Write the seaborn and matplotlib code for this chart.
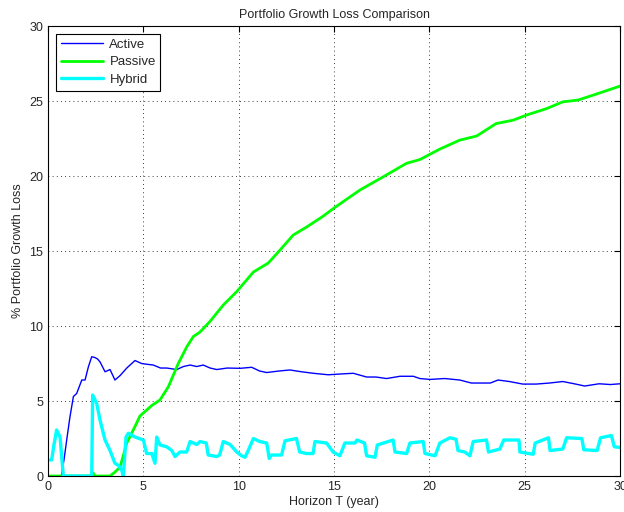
import pandas as pd
import seaborn as sns
import matplotlib
matplotlib.use('Agg')
import matplotlib.pyplot as plt

# values
active_t = [0, 0.7, 0.85, 1.0, 1.15, 1.33, 1.5, 1.65, 1.77, 1.94, 2.12, 2.29, 2.46, 2.6, 2.73, 2.99,
            3.25, 3.51, 3.78, 4.13, 4.56, 4.91, 5.2, 5.52, 5.9, 6.22, 6.75, 7.1, 7.45, 7.8, 8.14, 8.5,
            8.85, 9.4, 10.07, 10.68, 11.1, 11.47, 12.1, 12.69, 13.3, 13.91, 14.7, 15.3, 16.01, 16.71,
            17.2, 17.76, 18.46, 19.16, 19.5, 20.03, 20.8, 21.6, 22.2, 23.2, 23.6, 24.2, 24.9, 25.6,
            26.3, 27.0, 27.6, 28.15, 28.9, 29.5, 30]
active = [0, 0, 1.2, 2.6, 3.95, 5.3, 5.5, 6.0, 6.4, 6.4, 7.3, 7.95, 7.9, 7.8, 7.6, 6.95, 7.1, 6.4,
          6.7, 7.2, 7.7, 7.5, 7.45, 7.4, 7.2, 7.2, 7.1, 7.3, 7.4, 7.3, 7.4, 7.2, 7.1, 7.2, 7.18, 7.25,
          7.0, 6.9, 7.0, 7.07, 6.95, 6.85, 6.75, 6.8, 6.85, 6.6, 6.6, 6.5, 6.65, 6.65, 6.5, 6.44,
          6.5, 6.4, 6.2, 6.2, 6.4, 6.3, 6.13, 6.13, 6.2, 6.3, 6.15, 6.0, 6.15, 6.1, 6.15]

passive_t = [0, 2.3, 2.37, 2.45, 3.25, 3.5, 3.78, 4.13, 4.56, 4.82, 5.44, 5.87, 6.31, 6.83, 7.27,
             7.62, 7.97, 8.49, 9.19, 9.9, 10.77, 11.55, 12.17, 12.86, 13.56, 14.4, 15.1, 16.36,
             17.58, 18.8, 19.5, 20.55, 21.6, 22.48, 23.5, 24.4, 25.1, 26.15, 27.0, 27.8, 28.6, 29.3, 30]
passive = [0, 0, 0.2, 0, 0, 0.25, 0.6, 2.2, 3.3, 4.0, 4.7, 5.07, 5.95, 7.5, 8.6, 9.3, 9.6, 10.3,
           11.4, 12.3, 13.6, 14.2, 15.07, 16.07, 16.6, 17.3, 17.96, 19.07, 19.95, 20.85, 21.1, 21.8,
           22.4, 22.67, 23.5, 23.73, 24.07, 24.5, 24.95, 25.07, 25.4, 25.7, 26.0]

hybrid_t = [0.12, 0.19, 0.3, 0.45, 0.63, 0.8, 2.29, 2.34, 2.55, 2.73, 2.99, 3.25, 3.51, 3.7, 3.86,
            3.95, 4.09, 4.21, 4.56, 5.0, 5.17, 5.44, 5.61, 5.7, 5.87, 6.22, 6.49, 6.66, 6.92, 7.27,
            7.45, 7.8, 7.97, 8.3, 8.4, 8.85, 9.0, 9.19, 9.55, 9.9, 10.15, 10.33, 10.5, 10.77, 11.1,
            11.47, 11.6, 11.72, 12.25, 12.43, 13.03, 13.2, 13.56, 13.9, 14.0, 14.61, 14.95, 15.31,
            15.57, 16.1, 16.2, 16.6, 16.71, 17.15, 17.27, 18.1, 18.2, 18.81, 18.98, 19.68, 19.77,
            20.3, 20.55, 21.08, 21.4, 21.5, 21.86, 22.13, 22.3, 23.0, 23.1, 23.7, 23.9, 24.7, 24.75,
            25.45, 25.55, 26.25, 26.33, 27.0, 27.2, 28.0, 28.1, 28.8, 28.98, 29.55, 29.7, 30]
hybrid = [1.07, 1.07, 2.0, 3.07, 2.6, 0, 0, 5.4, 4.85, 3.7, 2.4, 1.7, 0.85, 0.7, 0.4, 0, 2.6, 2.85,
          2.6, 2.4, 1.5, 1.5, 0.85, 2.6, 2.07, 1.95, 1.7, 1.3, 1.6, 1.6, 2.3, 2.1, 2.3, 2.2, 1.4,
          1.3, 1.4, 2.3, 2.1, 1.6, 1.35, 1.25, 1.7, 2.5, 2.3, 2.2, 1.17, 1.4, 1.4, 2.35, 2.5, 1.6,
          1.5, 1.5, 2.3, 2.2, 1.6, 1.35, 2.2, 2.2, 2.4, 2.2, 1.35, 1.25, 2.07, 2.4, 1.6, 1.5, 2.2,
          2.3, 1.5, 1.35, 2.2, 2.55, 2.45, 1.7, 1.6, 1.35, 2.3, 2.4, 1.6, 1.8, 2.4, 2.4, 1.6, 1.45,
          2.2, 2.55, 1.7, 1.8, 2.55, 2.5, 1.75, 1.7, 2.55, 2.7, 1.95, 1.9]

if __name__ == '__main__':
    sns.set_style('white')
    plt.rcParams['font.family'] = ['Liberation Sans', 'DejaVu Sans']

    fig = plt.figure(figsize=(6.24, 5.12), dpi=100)
    ax = fig.add_axes([0.077, 0.0703, 0.9166, 0.8787])

    sns.lineplot(x=active_t, y=active, ax=ax, color='#0000ff', linewidth=1.0,
                 estimator=None, sort=False, label='Active')
    sns.lineplot(x=passive_t, y=passive, ax=ax, color='#00ff00', linewidth=2.0,
                 estimator=None, sort=False, label='Passive')
    sns.lineplot(x=hybrid_t, y=hybrid, ax=ax, color='#00ffff', linewidth=2.4,
                 estimator=None, sort=False, label='Hybrid')

    ax.set_xlim(0, 30)
    ax.set_ylim(0, 30)
    ax.set_xticks(range(0, 31, 5))
    ax.set_yticks(range(0, 31, 5))
    ax.grid(True, linestyle=(0, (1, 4)), color='black', linewidth=0.6)
    ax.tick_params(direction='in', top=True, right=True, labelsize=9, length=4, color='black')
    for s in ax.spines.values():
        s.set_color('black')
        s.set_linewidth(0.8)

    ax.set_title('Portfolio Growth Loss Comparison', fontsize=9)
    ax.set_xlabel('Horizon T (year)', fontsize=9, labelpad=2)
    ax.set_ylabel('% Portfolio Growth Loss', fontsize=9)

    leg = ax.legend(loc='upper left', fontsize=9.5, fancybox=False, framealpha=1,
                    edgecolor='black', borderaxespad=0.6, handlelength=3.2,
                    labelspacing=0.4, borderpad=0.35, handletextpad=0.5)
    leg.get_frame().set_linewidth(0.8)

    plt.savefig('out.png', dpi=100, facecolor='white')
